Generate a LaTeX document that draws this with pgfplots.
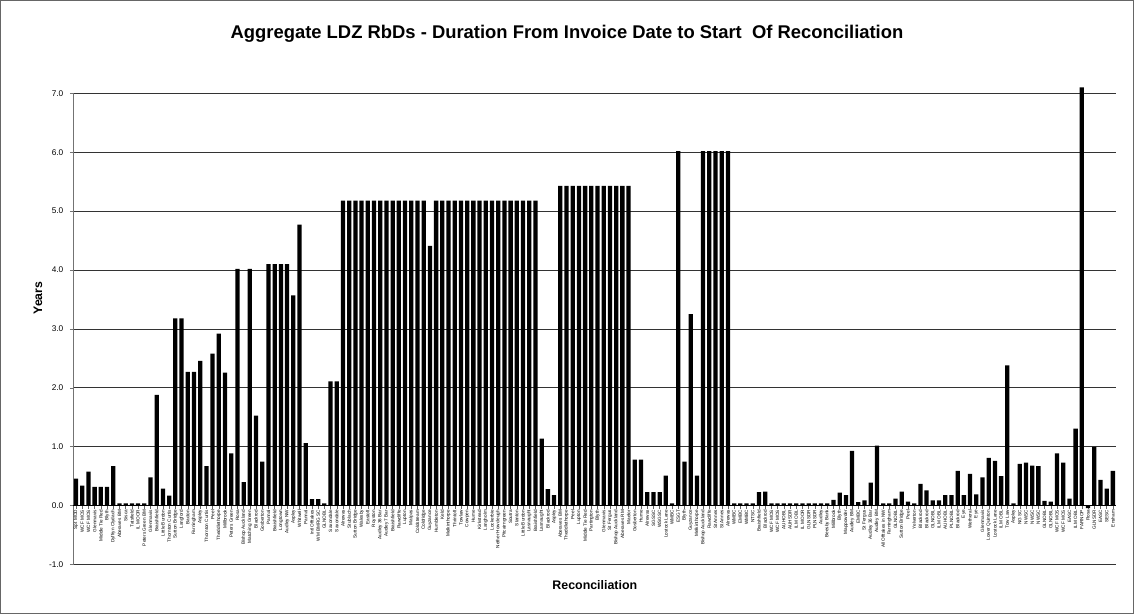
\documentclass[border=0pt]{standalone}
\usepackage{pgfplots}
\pgfplotsset{compat=1.18}
\usepackage{fontspec}
\setmainfont{Liberation Sans}
\begin{document}
\begin{tikzpicture}
\draw[black!60, line width=0.75pt] (0.375pt,-0.375pt) rectangle (850.125pt,-460.125pt);
\begin{axis}[
  scale only axis, width=782.3pt, height=353.5pt,
  anchor=south west, at={(54.675pt,-423.45pt)},
  xmin=0.5, xmax=168.5, ymin=-1, ymax=7,
  enlargelimits=false, clip=false,
  ybar, bar width=3.2pt,
  axis y line*=left, axis x line*=middle,
  y axis line style={black!55, line width=0.6pt},
  x axis line style={black, line width=0.7pt},
  ytick={-1,0,1,2,3,4,5,6,7},
  ymajorgrids, grid style={black!80, line width=0.55pt},
  /pgf/number format/fixed, /pgf/number format/fixed zerofill, /pgf/number format/precision=1, /pgf/number format/assume math mode=true,
  y tick label style={font=\fontsize{6.2}{7}\selectfont, xshift=-1.5pt},
  ytick style={black!55, line width=0.5pt}, tick align=outside,
  major tick length=2.2pt,
  xtick={1,...,168},
  xtick style={black!60, line width=0.3pt},
  x tick label style={rotate=90, anchor=east, font=\fontsize{3.5}{4}\selectfont, inner sep=0.8pt},
  xticklabels={Spt MOD,WCF MOS,WCF MOS,Glenmavis,Middle Tie Red,Blyth,Dyffryn Clydach,Aberaves BM,Sisca,Tatsfield,IL MOOR,Peters Green BM,Glenmavis,Braishfield,Little Burdon,Thornton Curtis,Sutton Bridge,Langford,Bacton,Farningham,Aspley,Thornton Curtis,Peel,Theddlethorpe,Millbrook,Peters Green,Rosa,Bishop Auckland,Matching Green,Blackrod,Gosberton,Pannal,Braishfield,Longtown,Audley NW,Aspley,Whitwell,Pannal,Intl Offtakes,WM BMRG SC,GLNOBL,Saxondale,Saxondale,Alrewas,Stublach,Sutton Bridge,Walesby,Eastoft,Royston,Audley 36 Bar,Audley 7 Bar,Braishfield,Rawcliffe,Lupton,Malpas,Coldstream,Coldridge,Guyzance,Humbleton,Keld,Melkinthorpe,Thrintoft,Towlaw,Cowpen,Hume,Kirkstead,Langholm,Lockerbie,Nether Howcleugh,Pitcairngreen,Soutra,Stanton,Little Burdon,Lasnaught,Braishfield,Lasnaught,Blackrod,Aspley,Aberaves BM,Theddlethorpe,Peel,Lupton,Middle Tie Red,Partington,Blyth,Glenmavis,St Fergus,Bishop Auckland,Aberaves RM,Maelor,Gosberton,Hume,Alrewas,SGSSC,WSGSC,Lostock Lane,WMBC,ESGT,Blyth,Guyzance,Melkinthorpe,Bishop Auckland,Rawcliffe,St Annes,St Annes,Alrewas,WMBC,EMBC,WMBC,NTSC,Braishfield,Blackrod,WCF MOS,WCF MOS,AUHOBL,AUHSDR,ILM OBL,IL MOOR,GLNSDR,PLNSDR,Audley,Beesby Bank,Millbrook,Blyth,Mappowder,Audley BM,EMBC,St Fergus,Audley 36 Bar,Audley BM,All Offtakes in NW,Farningham,GLNOBL,Sutton Bridge,Peel,Yelverton,Blackrod,Blackrod,GLNOBL,ILM OBL,AUHOBL,PLNOBL,Blackrod,Eye,Wetheral,Eye,Glenmavis,Lower Quinton,Lostock Lane,ILM OBL,Tow Law,Aspley,NG SC,NWSC,NWSC,NWSC,GLNOBL,GLNOBL,WCF MOS,WCF MOS,EASC,ILM OBL,FARNOP,Rosa,GLNSDR,EASC,SESC,Ensham},
]
\draw[black, line width=0.7pt] (axis cs:0.5,0) -- (axis cs:168.5,0);
\addplot[fill=black, draw=none] coordinates {
(1,0.46) (2,0.34) (3,0.58) (4,0.32) (5,0.32) (6,0.32) (7,0.67) (8,0.04) (9,0.04) (10,0.04)
(11,0.04) (12,0.04) (13,0.48) (14,1.88) (15,0.29) (16,0.17) (17,3.18) (18,3.18) (19,2.27) (20,2.27)
(21,2.46) (22,0.67) (23,2.58) (24,2.92) (25,2.26) (26,0.89) (27,4.02) (28,0.40) (29,4.02) (30,1.53)
(31,0.75) (32,4.10) (33,4.10) (34,4.10) (35,4.10) (36,3.57) (37,4.77) (38,1.06) (39,0.11) (40,0.11)
(41,0.04) (42,2.11) (43,2.11) (44,5.18) (45,5.18) (46,5.18) (47,5.18) (48,5.18) (49,5.18) (50,5.18)
(51,5.18) (52,5.18) (53,5.18) (54,5.18) (55,5.18) (56,5.18) (57,5.18) (58,4.41) (59,5.18) (60,5.18)
(61,5.18) (62,5.18) (63,5.18) (64,5.18) (65,5.18) (66,5.18) (67,5.18) (68,5.18) (69,5.18) (70,5.18)
(71,5.18) (72,5.18) (73,5.18) (74,5.18) (75,5.18) (76,1.14) (77,0.28) (78,0.18) (79,5.43) (80,5.43)
(81,5.43) (82,5.43) (83,5.43) (84,5.43) (85,5.43) (86,5.43) (87,5.43) (88,5.43) (89,5.43) (90,5.43)
(91,0.78) (92,0.78) (93,0.23) (94,0.23) (95,0.23) (96,0.51) (97,0.04) (98,6.02) (99,0.75) (100,3.25)
(101,0.51) (102,6.02) (103,6.02) (104,6.02) (105,6.02) (106,6.02) (107,0.04) (108,0.04) (109,0.04) (110,0.04)
(111,0.23) (112,0.24) (113,0.04) (114,0.04) (115,0.04) (116,0.04) (117,0.04) (118,0.04) (119,0.04) (120,0.04)
(121,0.04) (122,0.04) (123,0.10) (124,0.22) (125,0.18) (126,0.93) (127,0.06) (128,0.09) (129,0.39) (130,1.02)
(131,0.04) (132,0.04) (133,0.12) (134,0.24) (135,0.07) (136,0.04) (137,0.37) (138,0.26) (139,0.09) (140,0.09)
(141,0.18) (142,0.18) (143,0.59) (144,0.18) (145,0.54) (146,0.19) (147,0.48) (148,0.81) (149,0.76) (150,0.50)
(151,2.38) (152,0.04) (153,0.71) (154,0.73) (155,0.68) (156,0.67) (157,0.08) (158,0.07) (159,0.89) (160,0.73)
(161,0.12) (162,1.31) (163,7.10) (164,-0.04) (165,1.00) (166,0.44) (167,0.29) (168,0.59)
};
\end{axis}
\node[font=\bfseries\fontsize{13.8}{16}\selectfont] at (425.25pt,-25pt) {Aggregate LDZ RbDs - Duration From Invoice Date to Start\ \ Of Reconciliation};
\node[font=\bfseries\fontsize{9.2}{11}\selectfont, rotate=90] at (28.5pt,-223.5pt) {Years};
\node[font=\bfseries\fontsize{9.3}{11}\selectfont] at (446.1pt,-438.75pt) {Reconciliation};
\end{tikzpicture}
\end{document}
